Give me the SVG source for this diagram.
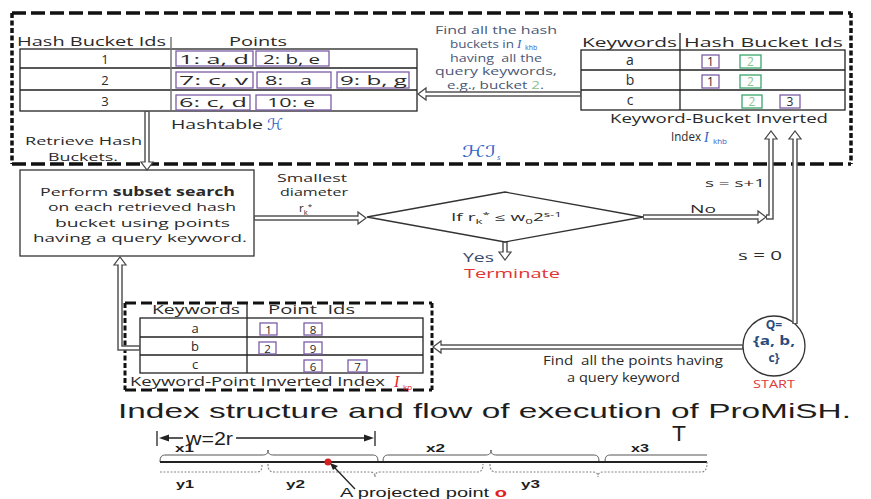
<svg xmlns="http://www.w3.org/2000/svg" width="871" height="499" viewBox="0 0 871 499">
<style>
.t{font-family:"Open Sans","DejaVu Sans",sans-serif;fill:#2a2a2a}
.a{font-family:"Liberation Sans",Arial,sans-serif;fill:#1e1e1e}
.ln{stroke:#222;stroke-width:1.3;fill:none}
.pb{fill:#fff;stroke:#7b5ea7;stroke-width:1.3}
.gb{fill:#fff;stroke:#3aa56a;stroke-width:1.3}
.dh{stroke:#111;stroke-width:3.5;fill:none;stroke-dasharray:14 5}
.dv{stroke:#111;stroke-width:3.5;fill:none;stroke-dasharray:5 2.5}
.co{stroke:#555;stroke-width:5.5;fill:none}
.ci{stroke:#fff;stroke-width:2.5;fill:none}
.ah{fill:#fff;stroke:#444;stroke-width:1.2}
.blue{fill:#2f64c8;font-family:"Liberation Serif",serif;font-style:italic}
</style>

<g id="hashindex-frame">
<path class="dh" d="M12,13 H851 M12,164 H851"/>
<path class="dv" d="M12,13 V164 M851,13 V164"/>
<text x="462" y="157" font-size="16" style="fill:#2f64c8;font-family:'DejaVu Sans',sans-serif;font-style:italic" textLength="34" lengthAdjust="spacingAndGlyphs">ℋℐ</text>
<text x="497" y="160" font-size="8" style="fill:#2f64c8;font-family:'Open Sans',sans-serif;font-style:italic">s</text>
</g>

<g id="hashtable">
<rect class="ln" x="20" y="49" width="397" height="62"/>
<path class="ln" d="M20,68 H417 M20,90 H417"/>
<path d="M171,37 V111" stroke="#777" stroke-width="1.5"/>
<text class="t" x="17" y="46" font-size="13.5" textLength="149" lengthAdjust="spacingAndGlyphs">Hash Bucket Ids</text>
<text class="t" x="229" y="46" font-size="13.5" textLength="58" lengthAdjust="spacingAndGlyphs">Points</text>
<text class="t" x="105" y="64" font-size="13" text-anchor="middle">1</text>
<text class="t" x="105" y="85" font-size="13" text-anchor="middle">2</text>
<text class="t" x="105" y="106" font-size="13" text-anchor="middle">3</text>
<rect class="pb" x="176" y="51" width="77" height="15"/>
<rect class="pb" x="256" y="51" width="73" height="15"/>
<rect class="pb" x="176" y="72" width="77" height="16"/>
<rect class="pb" x="257" y="72" width="74" height="16"/>
<rect class="pb" x="337" y="72" width="72" height="16"/>
<rect class="pb" x="176" y="95" width="74" height="15"/>
<rect class="pb" x="256" y="95" width="75" height="15"/>
<text class="t" x="179" y="64" font-size="12" textLength="70" lengthAdjust="spacingAndGlyphs">1: a, d</text>
<text class="t" x="263" y="64" font-size="12" textLength="57" lengthAdjust="spacingAndGlyphs">2: b, e</text>
<text class="t" x="179" y="85" font-size="12" textLength="69" lengthAdjust="spacingAndGlyphs">7: c, v</text>
<text class="t" x="265" y="85" font-size="12" xml:space="preserve" textLength="47" lengthAdjust="spacingAndGlyphs">8:   a</text>
<text class="t" x="340" y="85" font-size="12" textLength="67" lengthAdjust="spacingAndGlyphs">9: b, g</text>
<text class="t" x="179" y="107" font-size="12" textLength="68" lengthAdjust="spacingAndGlyphs">6: c, d</text>
<text class="t" x="267" y="107" font-size="12" textLength="48" lengthAdjust="spacingAndGlyphs">10: e</text>
<text class="t" x="171" y="129" font-size="13" textLength="92" lengthAdjust="spacingAndGlyphs">Hashtable</text>
<text x="267" y="130" font-size="16" style="fill:#2f64c8;font-family:'DejaVu Sans',sans-serif;font-style:italic">ℋ</text>
<text class="t" x="25" y="145" font-size="11.5" textLength="117" lengthAdjust="spacingAndGlyphs">Retrieve Hash</text>
<text class="t" x="48" y="161" font-size="11.5" textLength="70" lengthAdjust="spacingAndGlyphs">Buckets.</text>
</g>

<g id="keyword-bucket-index">
<rect class="ln" x="581" y="50" width="264" height="60"/>
<path class="ln" d="M581,70 H845 M581,90 H845"/>
<path class="ln" d="M680,33 V110"/>
<text class="t" x="582" y="47" font-size="13.5" textLength="95" lengthAdjust="spacingAndGlyphs">Keywords</text>
<text class="t" x="684" y="47" font-size="13.5" textLength="159" lengthAdjust="spacingAndGlyphs">Hash Bucket Ids</text>
<text class="t" x="630" y="65" font-size="14" text-anchor="middle">a</text>
<text class="t" x="630" y="85" font-size="14" text-anchor="middle">b</text>
<text class="t" x="630" y="105" font-size="14" text-anchor="middle">c</text>
<rect class="pb" x="702" y="55" width="17" height="13"/>
<rect class="gb" x="740" y="55" width="21" height="13"/>
<rect class="pb" x="702" y="75" width="17" height="13"/>
<rect class="gb" x="740" y="75" width="21" height="13"/>
<rect class="gb" x="742" y="95" width="20" height="13"/>
<rect class="pb" x="780" y="95" width="20" height="13"/>
<text class="t" x="710.5" y="66" font-size="12" text-anchor="middle">1</text>
<text class="t" x="750.5" y="66" font-size="12" text-anchor="middle" style="fill:#8cc48c">2</text>
<text class="t" x="710.5" y="86" font-size="12" text-anchor="middle">1</text>
<text class="t" x="750.5" y="86" font-size="12" text-anchor="middle" style="fill:#8cc48c">2</text>
<text class="t" x="752" y="106" font-size="12" text-anchor="middle" style="fill:#8cc48c">2</text>
<text class="t" x="790" y="106" font-size="12" text-anchor="middle">3</text>
<text class="t" x="610" y="123" font-size="12.5" textLength="218" lengthAdjust="spacingAndGlyphs">Keyword-Bucket Inverted</text>
<text class="t" x="671" y="141" font-size="12.5" textLength="30" lengthAdjust="spacingAndGlyphs">Index</text>
<text class="blue" x="704" y="142" font-size="14">I</text>
<text x="713" y="144" font-size="8" style="fill:#2f64c8;font-family:'Open Sans',sans-serif">khb</text>
</g>

<g id="find-buckets-label">
<text class="t" x="496" y="34" font-size="10.5" text-anchor="middle" style="fill:#4a5878" textLength="122" lengthAdjust="spacingAndGlyphs">Find all the hash</text>
<text class="t" x="450" y="48" font-size="10.5" style="fill:#4a5878" textLength="64" lengthAdjust="spacingAndGlyphs">buckets in</text>
<text class="blue" x="517" y="48" font-size="13">I</text>
<text x="525" y="50" font-size="7" style="fill:#2f64c8;font-family:'Open Sans',sans-serif">khb</text>
<text class="t" x="496" y="62" font-size="10.5" text-anchor="middle" style="fill:#4a5878" xml:space="preserve" textLength="92" lengthAdjust="spacingAndGlyphs">having  all the</text>
<text class="t" x="496" y="75" font-size="10.5" text-anchor="middle" style="fill:#4a5878" textLength="122" lengthAdjust="spacingAndGlyphs">query keywords,</text>
<text class="t" x="447" y="89" font-size="10.5" style="fill:#4a5878" textLength="97" lengthAdjust="spacingAndGlyphs">e.g., bucket <tspan style="fill:#8cc48c">2</tspan>.</text>
</g>

<g id="subset-search">
<rect x="20" y="170" width="234" height="86" fill="#fff" stroke="#333" stroke-width="1.3"/>
<text class="t" x="40" y="196" font-size="11.5" textLength="195" lengthAdjust="spacingAndGlyphs">Perform <tspan font-weight="bold">subset search</tspan></text>
<text class="t" x="48" y="211" font-size="11.5" textLength="188" lengthAdjust="spacingAndGlyphs">on each retrieved hash</text>
<text class="t" x="55" y="227" font-size="11.5" textLength="175" lengthAdjust="spacingAndGlyphs">bucket using points</text>
<text class="t" x="33" y="242" font-size="11.5" textLength="214" lengthAdjust="spacingAndGlyphs">having a query keyword.</text>
</g>

<g id="smallest-diameter-label">
<text class="t" x="277" y="182" font-size="11.5" textLength="70" lengthAdjust="spacingAndGlyphs">Smallest</text>
<text class="t" x="280" y="196" font-size="11.5" textLength="68" lengthAdjust="spacingAndGlyphs">diameter</text>
<text class="t" x="299" y="212" font-size="11.5">r<tspan font-size="7.5" dy="3">k</tspan><tspan font-size="8" dy="-6">*</tspan></text>
</g>

<g id="decision">
<polygon points="367,217 505,192 643,217 505,242" fill="#fff" stroke="#333" stroke-width="1.3"/>
<text class="t" x="451" y="221" font-size="10" textLength="111" lengthAdjust="spacingAndGlyphs">If r<tspan font-size="7" dy="3">k</tspan><tspan font-size="7" dy="-7">*</tspan><tspan dy="4"> ≤ w</tspan><tspan font-size="7" dy="3">0</tspan><tspan dy="-3">2</tspan><tspan font-size="7" dy="-4">s-1</tspan></text>
<text class="t" x="463" y="262" font-size="12" style="fill:#3a4a6a" textLength="31" lengthAdjust="spacingAndGlyphs">Yes</text>
<text class="t" x="464" y="278" font-size="12.5" style="fill:#e03535" textLength="96" lengthAdjust="spacingAndGlyphs">Terminate</text>
<text class="t" x="690" y="213" font-size="11" textLength="26" lengthAdjust="spacingAndGlyphs">No</text>
<text class="t" x="705" y="187" font-size="11" textLength="60" lengthAdjust="spacingAndGlyphs">s = s+1</text>
<text class="t" x="738" y="260" font-size="12" textLength="44" lengthAdjust="spacingAndGlyphs">s = 0</text>
</g>

<g id="keyword-point-index">
<path class="dh" d="M125,303 H432 M125,390 H432" style="stroke-width:3;stroke-dasharray:11 5"/>
<path class="dv" d="M125,303 V390 M432,303 V390" style="stroke-width:3"/>
<rect class="ln" x="140" y="318" width="283" height="55"/>
<path class="ln" d="M140,337 H423 M140,355 H423 M247,303 V373"/>
<text class="t" x="152" y="314" font-size="12" textLength="88" lengthAdjust="spacingAndGlyphs">Keywords</text>
<text class="t" x="268" y="314" font-size="12" xml:space="preserve" textLength="87" lengthAdjust="spacingAndGlyphs">Point  Ids</text>
<text class="t" x="195" y="333" font-size="13" text-anchor="middle">a</text>
<text class="t" x="195" y="351" font-size="13" text-anchor="middle">b</text>
<text class="t" x="195" y="369" font-size="13" text-anchor="middle">c</text>
<rect class="pb" x="260" y="323" width="17" height="12"/>
<rect class="pb" x="304" y="323" width="18" height="12"/>
<rect class="pb" x="259" y="342" width="17" height="12"/>
<rect class="pb" x="304" y="342" width="18" height="12"/>
<rect class="pb" x="304" y="360" width="18" height="12"/>
<rect class="pb" x="348" y="360" width="19" height="12"/>
<text class="t" x="268.5" y="333.5" font-size="11.5" text-anchor="middle">1</text>
<text class="t" x="313" y="333.5" font-size="11.5" text-anchor="middle">8</text>
<text class="t" x="267.5" y="352.5" font-size="11.5" text-anchor="middle">2</text>
<text class="t" x="313" y="352.5" font-size="11.5" text-anchor="middle">9</text>
<text class="t" x="313" y="370.5" font-size="11.5" text-anchor="middle">6</text>
<text class="t" x="357.5" y="370.5" font-size="11.5" text-anchor="middle">7</text>
<text class="t" x="130" y="386" font-size="12" textLength="255" lengthAdjust="spacingAndGlyphs">Keyword-Point Inverted Index</text>
<text x="394" y="387" font-size="16" style="fill:#e02828;font-family:'Liberation Serif',serif;font-style:italic">I</text>
<text x="403" y="390" font-size="8" style="fill:#e02828;font-family:'Open Sans',sans-serif">kp</text>
</g>

<g id="query-start">
<ellipse cx="774" cy="346" rx="31" ry="30" fill="#fff" stroke="#333" stroke-width="1.3"/>
<text class="t" x="774" y="329" font-size="12" font-weight="bold" text-anchor="middle" style="fill:#2a4b7c">Q=</text>
<text class="t" x="774" y="345" font-size="12" font-weight="bold" text-anchor="middle" style="fill:#2a4b7c" textLength="42" lengthAdjust="spacingAndGlyphs">{a, b,</text>
<text class="t" x="774" y="362" font-size="12" font-weight="bold" text-anchor="middle" style="fill:#2a4b7c">c}</text>
<text class="t" x="774" y="388" font-size="10.5" text-anchor="middle" style="fill:#e03a3a" textLength="42" lengthAdjust="spacingAndGlyphs">START</text>
</g>

<g id="find-points-label">
<text class="t" x="543" y="365" font-size="13" xml:space="preserve" textLength="180" lengthAdjust="spacingAndGlyphs">Find  all the points having</text>
<text class="t" x="567" y="382" font-size="13" textLength="113" lengthAdjust="spacingAndGlyphs">a query keyword</text>
</g>

<g id="connectors">
<path class="co" d="M147,111 V162"/><polygon class="ah" points="141,162 153,162 147,170"/><path class="ci" d="M147,112 V163"/>
<path class="co" d="M581,94 H426"/><polygon class="ah" points="426,88 426,100 418,94"/><path class="ci" d="M580,94 H425"/>
<path class="co" d="M254,218 H358"/><polygon class="ah" points="358,212 358,224 366,218"/><path class="ci" d="M255,218 H359"/>
<path class="co" d="M643,217 H758"/><polygon class="ah" points="758,211 758,223 766,217"/><path class="ci" d="M644,217 H759"/>
<path class="co" d="M766,217 H771 V139"/><polygon class="ah" points="765,139 777,139 771,131"/><path class="ci" d="M767,217 H771 V138"/>
<path class="co" d="M795,324 V139"/><polygon class="ah" points="789,139 801,139 795,131"/><path class="ci" d="M795,323 V138"/>
<path class="co" d="M743,347 H441"/><polygon class="ah" points="441,341 441,353 433,347"/><path class="ci" d="M742,347 H440"/>
<path class="co" d="M140,348 H120 V265"/><polygon class="ah" points="114,265 126,265 120,257"/><path class="ci" d="M139,348 H120 V264"/>
<path class="co" d="M505,242 V252"/><polygon class="ah" points="499,252 511,252 505,260"/><path class="ci" d="M505,243 V253"/>
</g>

<g id="caption">
<text class="a" x="118" y="418" font-size="21" textLength="733" lengthAdjust="spacingAndGlyphs">Index structure and flow of execution of ProMiSH.</text>
</g>

<g id="projection-figure">
<path d="M157,431 V446 M375,431 V446 M168,438 H183 M236,438 H366" stroke="#222" stroke-width="1.3" fill="none"/>
<polygon points="159,438 169,434.5 169,441.5" fill="#222"/>
<polygon points="374,438 364,434.5 364,441.5" fill="#222"/>
<text class="a" x="186" y="445" font-size="18" textLength="47" lengthAdjust="spacingAndGlyphs">w=2r</text>
<text class="a" x="672" y="441" font-size="22" textLength="14" lengthAdjust="spacingAndGlyphs">T</text>
<text class="a" x="175" y="452" font-size="11" font-weight="bold" textLength="19" lengthAdjust="spacingAndGlyphs">x1</text>
<text class="a" x="426" y="452" font-size="11" font-weight="bold" textLength="19" lengthAdjust="spacingAndGlyphs">x2</text>
<text class="a" x="631" y="452" font-size="11" font-weight="bold" textLength="18" lengthAdjust="spacingAndGlyphs">x3</text>
<path d="M160,462 C160,456 162,455 166,455 H262 C266,455 268,454 268,450 C268,454 270,455 274,455 H372 C376,455 378,456 378,462 M383,462 C383,456 385,455 389,455 H485 C489,455 491,454 491,450 C491,454 493,455 497,455 H593 C597,455 599,456 599,462 M605,462 C605,456 607,455 611,455 H707" stroke="#555" stroke-width="1" fill="none"/>
<path d="M160,462 H707" stroke="#222" stroke-width="1.8"/>
<path d="M160,472 H257 C261,472 262,470 262,464 M268,464 C268,470 270,472 274,472 H370 C373,472 375,473 375,477 C375,473 377,472 380,472 H477 C481,472 483,470 483,464 M490,464 C490,470 492,472 496,472 H593 C596,472 598,473 598,477 C598,473 600,472 603,472 H701 C705,472 707,470 707,462" stroke="#888" stroke-width="1.2" stroke-dasharray="2 1.5" fill="none"/>
<text class="a" x="176" y="488" font-size="11.5" font-weight="bold" textLength="18" lengthAdjust="spacingAndGlyphs">y1</text>
<text class="a" x="286" y="488" font-size="11.5" font-weight="bold" textLength="19" lengthAdjust="spacingAndGlyphs">y2</text>
<text class="a" x="521" y="488" font-size="11.5" font-weight="bold" textLength="19" lengthAdjust="spacingAndGlyphs">y3</text>
<circle cx="328" cy="462" r="3.5" fill="#d42020"/>
<path d="M355,489 L334,467" stroke="#222" stroke-width="1.3"/>
<polygon points="330,463 338,466 333,470" fill="#222"/>
<text class="a" x="340" y="497" font-size="12.5" textLength="167" lengthAdjust="spacingAndGlyphs">A projected point <tspan font-weight="bold" fill="#e02020">o</tspan></text>
</g>
</svg>
